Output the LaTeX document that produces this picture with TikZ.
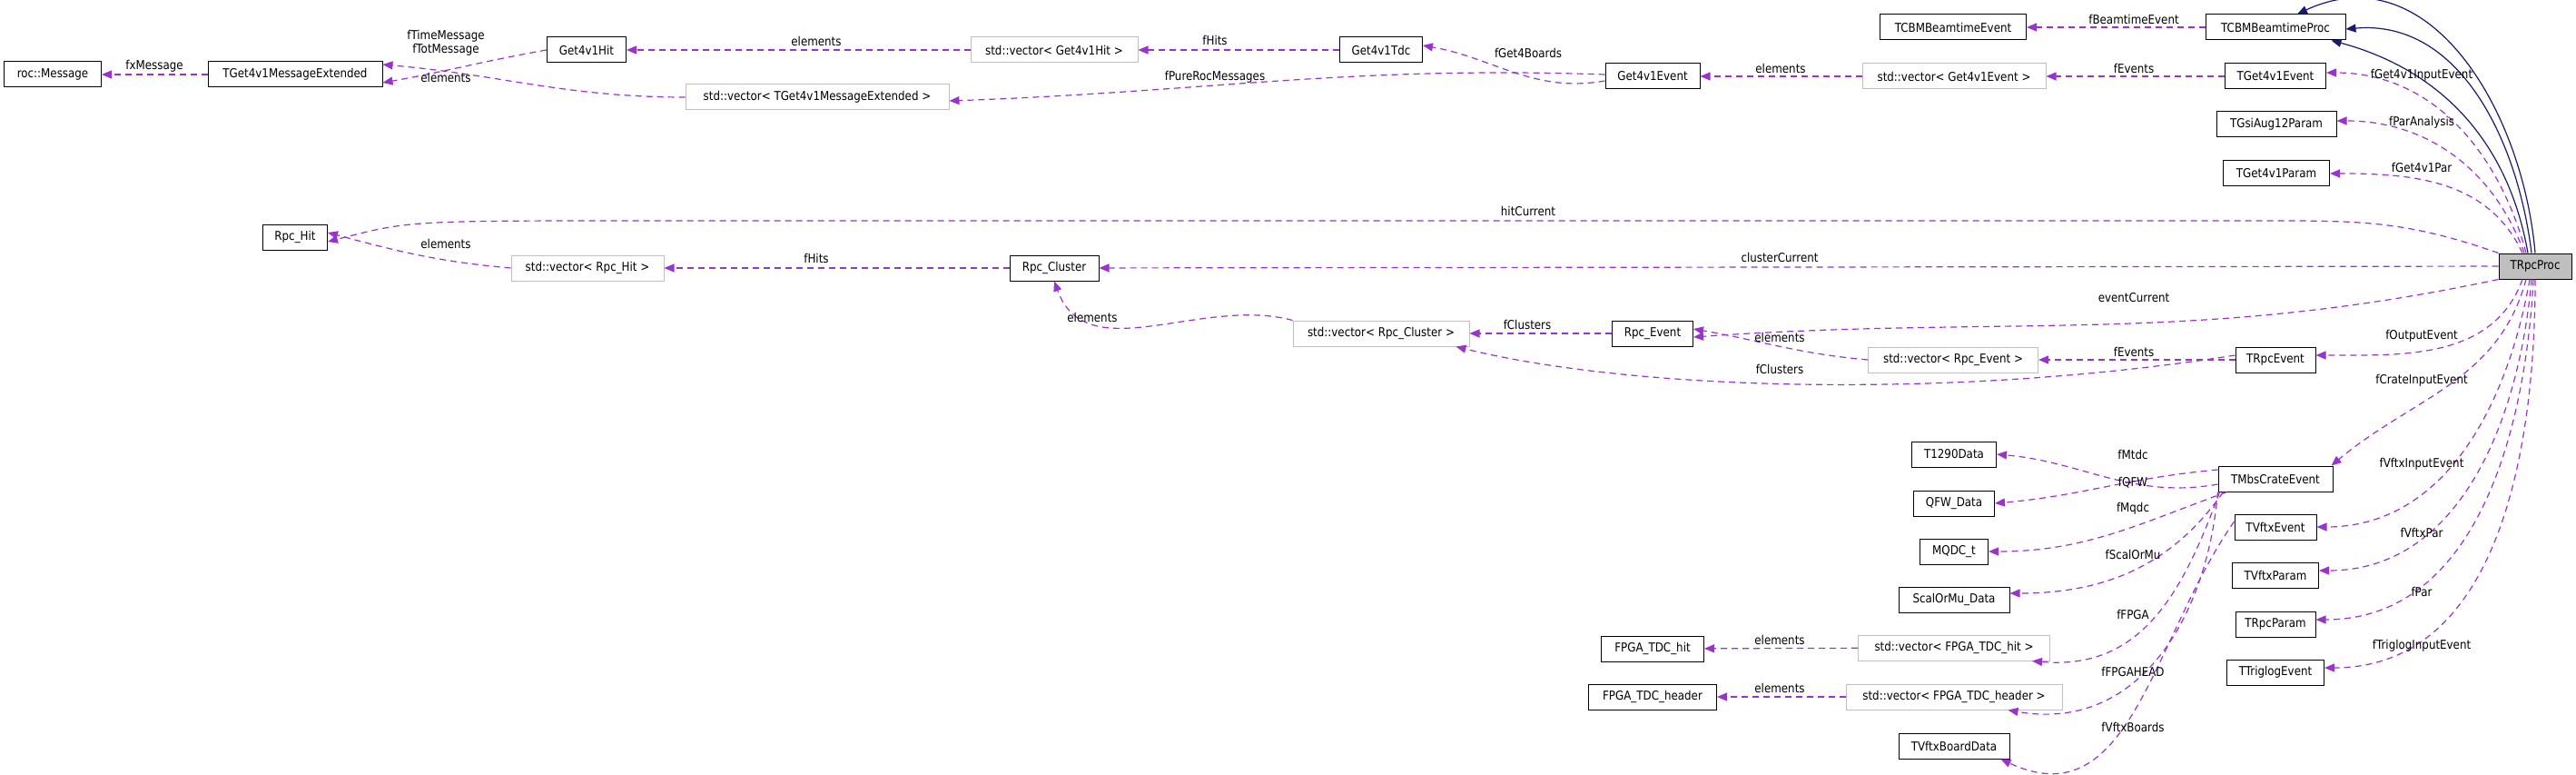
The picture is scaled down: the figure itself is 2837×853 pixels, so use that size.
\documentclass[tikz,border=0pt]{standalone}
\usepackage{fontspec}
\setmainfont{DejaVu Sans}[FakeStretch=0.88]
\usetikzlibrary{arrows.meta}
\definecolor{edgec}{HTML}{9A32CD}
\definecolor{inhc}{HTML}{191970}
\definecolor{vecb}{HTML}{BFBFBF}
\begin{document}
\begin{tikzpicture}[x=1pt,y=-1pt,
  font=\fontsize{13.5}{15}\selectfont,
  cls/.style={draw=black,line width=1pt,minimum height=28pt,inner sep=0pt},
  vec/.style={draw=vecb,line width=1pt,minimum height=28pt,inner sep=0pt},
  me/.style={draw=edgec,line width=1.2pt,dash pattern=on 7pt off 5pt,-{Triangle[length=11pt,width=9pt]}},
  inh/.style={draw=inhc,line width=1.2pt,-{Triangle[length=11pt,width=9pt]}},
  lbl/.style={inner sep=0pt,align=center}]
\useasboundingbox (0,0) rectangle (2837,853);
% nodes
\node[cls,minimum width=107pt] (roc) at (58,82) {roc::Message};
\node[cls,minimum width=192pt] (tme) at (325,82) {TGet4v1MessageExtended};
\node[cls,minimum width=87pt] (ghit) at (646,55) {Get4v1Hit};
\node[vec,minimum width=290pt] (vtme) at (900,107) {std::vector< TGet4v1MessageExtended >};
\node[cls,minimum width=71pt] (rhit) at (325,261) {Rpc\_Hit};
\node[vec,minimum width=168pt] (vrhit) at (647,295) {std::vector< Rpc\_Hit >};
\node[vec,minimum width=184pt] (vghit) at (1161,55) {std::vector< Get4v1Hit >};
\node[cls,minimum width=91pt] (gtdc) at (1521,55) {Get4v1Tdc};
\node[cls,minimum width=104pt] (gev) at (1820,84) {Get4v1Event};
\node[cls,minimum width=98pt] (rcl) at (1161,295) {Rpc\_Cluster};
\node[cls,minimum width=161pt] (tcbe) at (2151,30) {TCBMBeamtimeEvent};
\node[cls,minimum width=154pt] (tcbp) at (2506,30) {TCBMBeamtimeProc};
\node[vec,minimum width=202pt] (vgev) at (2152,84) {std::vector< Get4v1Event >};
\node[cls,minimum width=111pt] (tgev) at (2506,84) {TGet4v1Event};
\node[cls,minimum width=132pt] (gsi) at (2507,137) {TGsiAug12Param};
\node[cls,minimum width=117pt] (tgp) at (2507,191) {TGet4v1Param};
\node[cls,minimum width=80pt,fill=vecb] (rp) at (2792,293) {TRpcProc};
\node[vec,minimum width=187pt] (vrev) at (2151,396) {std::vector< Rpc\_Event >};
\node[cls,minimum width=88pt] (trev) at (2506,396) {TRpcEvent};
\node[vec,minimum width=194pt] (vrcl) at (1521,367) {std::vector< Rpc\_Cluster >};
\node[cls,minimum width=89pt] (rev) at (1820,367) {Rpc\_Event};
\node[cls,minimum width=93pt] (t1290) at (2152,500) {T1290Data};
\node[cls,minimum width=89pt] (qfw) at (2152,554) {QFW\_Data};
\node[cls,minimum width=75pt] (mqdc) at (2152,607) {MQDC\_t};
\node[cls,minimum width=122pt] (scal) at (2152,660) {ScalOrMu\_Data};
\node[cls,minimum width=113pt] (fhit) at (1820,714) {FPGA\_TDC\_hit};
\node[cls,minimum width=141pt] (fhead) at (1820,767) {FPGA\_TDC\_header};
\node[vec,minimum width=211pt] (vfhit) at (2152,713) {std::vector< FPGA\_TDC\_hit >};
\node[vec,minimum width=238pt] (vfhead) at (2152,767) {std::vector< FPGA\_TDC\_header >};
\node[cls,minimum width=122pt] (vbd) at (2152,821) {TVftxBoardData};
\node[cls,minimum width=126pt] (mbs) at (2506,527) {TMbsCrateEvent};
\node[cls,minimum width=90pt] (vev) at (2506,580) {TVftxEvent};
\node[cls,minimum width=95pt] (vpar) at (2506,633) {TVftxParam};
\node[cls,minimum width=88pt] (rpar) at (2506,687) {TRpcParam};
\node[cls,minimum width=107pt] (trig) at (2506,740) {TTriglogEvent};
% inheritance
\draw[inh] (rp.north) to[out=95,in=25,looseness=1.1] ([xshift=24pt]tcbp.north);
\draw[inh] ([xshift=-4pt]rp.north) to[out=97,in=5,looseness=1] ([yshift=-2pt]tcbp.east);
\draw[inh] ([xshift=-8pt]rp.north) to[out=100,in=-15,looseness=1] ([xshift=-16pt]tcbp.south east);
% left block
\draw[me] (tme) -- (roc);
\draw[me] (ghit.west) to[out=190,in=10] ([yshift=-9pt]tme.east);
\draw[me] (vtme.west) to[out=180,in=-5] ([yshift=11pt]tme.east);
\draw[me] (vghit) -- (ghit);
\draw[me] (gtdc) -- (vghit);
\draw[me] ([yshift=-5pt]gev.west) to[out=190,in=-10] ([yshift=5pt]gtdc.east);
\draw[me] ([yshift=2pt]gev.west) to[out=178,in=2] ([yshift=-4pt]vtme.east);
\draw[me] (vgev) -- (gev);
\draw[me] (tgev) -- (vgev);
\draw[me] (tcbp) -- (tcbe);
% rpc
\draw[me] (rp.north west) .. controls (2650,243) and (2600,243) .. (2500,243) -- (700,243) .. controls (450,243) .. ([yshift=-5pt]rhit.east);
\draw[me] (vrhit.west) to[out=175,in=-15] ([yshift=5pt]rhit.east);
\draw[me] (rcl) -- (vrhit);
\draw[me] (rp) -- (rcl);
\draw[me] (rp.south west) to[out=192,in=4] ([yshift=-4pt]rev.east);
\draw[me] (vrcl.north west) to[out=165,in=-70] (rcl.south);
\draw[me] (rev) -- (vrcl);
\draw[me] (vrev.west) to[out=175,in=-10] ([yshift=5pt]rev.east);
\draw[me] (trev) -- (vrev);
\draw[me] ([yshift=5pt]trev.west) .. controls (2150,440) and (1800,430) .. ([xshift=-15pt]vrcl.south east);
% right fan
\draw[me] ([xshift=-10pt]rp.north) to[out=105,in=0] ([yshift=4pt]tgev.east);
\draw[me] ([xshift=-12pt]rp.north) to[out=110,in=0] ([yshift=4pt]gsi.east);
\draw[me] ([xshift=-14pt]rp.north) to[out=115,in=0] (tgp.east);
\draw[me] ([xshift=-14pt]rp.south) to[out=-110,in=0] ([yshift=5pt]trev.east);
\draw[me] ([xshift=-10pt]rp.south) to[out=-105,in=40] ([xshift=-2pt]mbs.north east);
\draw[me] ([xshift=-6pt]rp.south) to[out=-100,in=0] (vev.east);
\draw[me] ([xshift=-4pt]rp.south) to[out=-95,in=0] ([yshift=5pt]vpar.east);
\draw[me] ([xshift=-2pt]rp.south) to[out=-93,in=0] ([yshift=5pt]rpar.east);
\draw[me] (rp.south) to[out=-90,in=0] ([yshift=5pt]trig.east);
% mbs
\draw[me] ([yshift=-6pt]mbs.west) to[out=190,in=-5] (t1290.east);
\draw[me] ([yshift=10pt]mbs.west) to[out=185,in=5] (qfw.east);
\draw[me] ([xshift=10pt]mbs.south west) to[out=200,in=0] (mqdc.east);
\draw[me] ([xshift=6pt]mbs.south west) to[out=235,in=0] ([yshift=7pt]scal.east);
\draw[me] ([xshift=2pt]mbs.south west) to[out=250,in=-5,looseness=1.1] ([xshift=-20pt]vfhit.south east);
\draw[me] (mbs.south west) to[out=265,in=-10,looseness=1.1] ([xshift=-60pt]vfhead.south east);
\draw[me] ([yshift=6pt]vev.west) to[out=235,in=-25,looseness=1.1] ([xshift=-10pt]vbd.south east);
\draw[me] (vfhit) -- (fhit);
\draw[me] (vfhead) -- (fhead);
% labels
\node[lbl] (l1) at (170,73) {fxMessage};
\node[lbl] (l2) at (491,47) {fTimeMessage\\fTotMessage};
\node[lbl] (l3) at (491,85) {elements};
\node[lbl] (l4) at (899,45) {elements};
\node[lbl] (l5) at (1338,44) {fHits};
\node[lbl] (l6) at (1683,58) {fGet4Boards};
\node[lbl] (l7) at (1338,85) {fPureRocMessages};
\node[lbl] (l8) at (1961,75) {elements};
\node[lbl] (l9) at (2350,75) {fEvents};
\node[lbl] (l10) at (2350,21) {fBeamtimeEvent};
\node[lbl] (l11) at (2667,83) {fGet4v1InputEvent};
\node[lbl] (l12) at (2667,135) {fParAnalysis};
\node[lbl] (l13) at (2667,184) {fGet4v1Par};
\node[lbl] (l14) at (1683,232) {hitCurrent};
\node[lbl] (l15) at (491,268) {elements};
\node[lbl] (l16) at (899,284) {fHits};
\node[lbl] (l17) at (1960,283) {clusterCurrent};
\node[lbl] (l18) at (2350,328) {eventCurrent};
\node[lbl] (l19) at (1203,349) {elements};
\node[lbl] (l20) at (1682,357) {fClusters};
\node[lbl] (l21) at (1960,371) {elements};
\node[lbl] (l22) at (1960,406) {fClusters};
\node[lbl] (l23) at (2350,387) {fEvents};
\node[lbl] (l24) at (2667,370) {fOutputEvent};
\node[lbl] (l25) at (2667,419) {fCrateInputEvent};
\node[lbl] (l26) at (2349,500) {fMtdc};
\node[lbl] (l27) at (2349,531) {fQFW};
\node[lbl] (l28) at (2349,560) {fMqdc};
\node[lbl] (l29) at (2349,610) {fScalOrMu};
\node[lbl] (l30) at (2349,676) {fFPGA};
\node[lbl] (l31) at (2349,739) {fFPGAHEAD};
\node[lbl] (l32) at (2349,800) {fVftxBoards};
\node[lbl] (l33) at (1960,704) {elements};
\node[lbl] (l34) at (1960,757) {elements};
\node[lbl] (l35) at (2667,511) {fVftxInputEvent};
\node[lbl] (l36) at (2667,586) {fVftxPar};
\node[lbl] (l37) at (2667,651) {fPar};
\node[lbl] (l38) at (2667,711) {fTriglogInputEvent};
\end{tikzpicture}
\end{document}
